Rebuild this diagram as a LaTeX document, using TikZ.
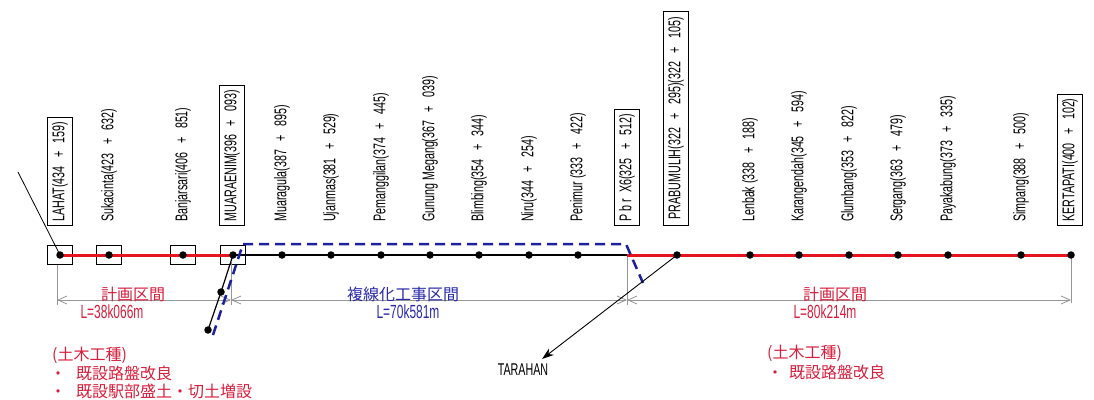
\documentclass[tikz,border=0pt]{standalone}
\usepackage{fontspec}
\setmainfont{Liberation Sans}
\newfontfamily\narrowf[FakeStretch=0.63]{Liberation Sans}
\newfontfamily\cjkf{Noto Sans CJK JP}
\usetikzlibrary{arrows.meta}
\definecolor{lred}{RGB}{230,20,30}
\definecolor{tred}{RGB}{215,30,60}
\definecolor{tblue}{RGB}{40,40,170}
\definecolor{dblue}{RGB}{30,30,160}
\definecolor{dimgray}{RGB}{150,150,150}
\newcommand\plsep{\hspace{.5em}+\hspace{.5em}}
\begin{document}
\begin{tikzpicture}[x=1pt,y=-1pt,
  stlabel/.style={rotate=90,anchor=west,inner xsep=4pt,inner ysep=4.5pt,font=\narrowf\fontsize{17}{17}\selectfont},
  boxed/.style={draw,line width=1pt},
  dot/.style={circle,fill=black,inner sep=0pt,minimum size=7.5pt},
  sqbox/.style={draw,line width=1pt,minimum width=25pt,minimum height=19pt,inner sep=0pt},
  redline/.style={lred,line width=3pt},
  blkline/.style={black,line width=1.2pt},
  bluedash/.style={dblue,line width=2.5pt,dash pattern=on 10pt off 6pt},
  extline/.style={dimgray,line width=0.8pt},
  dimarrow/.style={dimgray,line width=0.8pt,{Straight Barb[length=9pt,width=8pt]}-{Straight Barb[length=9pt,width=8pt]}},
  cjktext/.style={font=\cjkf\fontsize{16}{16}\selectfont,inner sep=0pt},
  lentext/.style={font=\narrowf\fontsize{19}{19}\selectfont,inner sep=0pt},
]
\path[use as bounding box] (0,0) rectangle (1094,399);

% station coordinates
\coordinate (lahat) at (60,255);
\coordinate (suka) at (109,255);
\coordinate (banj) at (183,255);
\coordinate (muar) at (233,255);
\coordinate (mgula) at (282,255);
\coordinate (ujan) at (331,255);
\coordinate (pema) at (381,255);
\coordinate (gunung) at (430,255);
\coordinate (blim) at (479,255);
\coordinate (niru) at (529,255);
\coordinate (peni) at (578,255);
\coordinate (pbr) at (627,255);
\coordinate (prab) at (677,255);
\coordinate (lenb) at (750,255);
\coordinate (kara) at (799,255);
\coordinate (glum) at (849,255);
\coordinate (serg) at (898,255);
\coordinate (paya) at (948,255);
\coordinate (simp) at (1021,255);
\coordinate (kert) at (1071,255);

% small square boxes
\node[sqbox] (lahatB) at (lahat) {};
\node[sqbox] (sukaB) at (suka) {};
\node[sqbox] (banjB) at (banj) {};
\node[sqbox] (muarB) at (muar) {};

% dimension extension lines
\coordinate (x1t) at (57,265); \coordinate (x1b) at (57,305);
\coordinate (x2t) at (231,262); \coordinate (x2b) at (231,305);
\coordinate (x3t) at (627,255); \coordinate (x3b) at (627,305);
\coordinate (x4t) at (1071,258); \coordinate (x4b) at (1071,303);
\draw[extline] (x1t) -- (x1b);
\draw[extline] (x2t) -- (x2b);
\draw[extline] (x3t) -- (x3b);
\draw[extline] (x4t) -- (x4b);
\coordinate (d1) at (57,300); \coordinate (d2) at (231,300);
\coordinate (d3) at (627,300); \coordinate (d4) at (1071,300);
\draw[dimarrow] (d1) -- (d2);
\draw[dimarrow] (d2) -- (d3);
\draw[dimarrow] (d3) -- (d4);

% main lines
\draw[redline] (lahat) -- (muar);
\draw[blkline] (muar) -- (pbr);
\draw[redline] (pbr) -- (kert);

% branch at Muaraenim
\coordinate (br1) at (221,292);
\coordinate (br2) at (208,330);
\draw[blkline] (muar) -- (br1) -- (br2);

% double-track section (blue dashed)
\coordinate (bl1) at (213,335);
\coordinate (bl2) at (243,244);
\coordinate (bl3) at (626,244);
\coordinate (bl4) at (643,283);
\draw[bluedash] (bl1) -- (bl2) -- (bl3) -- (bl4);

% leader at Lahat
\coordinate (lead) at (18,172);
\draw[line width=0.8pt] (lead) -- (lahat);

% Tarahan branch
\node[font=\narrowf\fontsize{17}{17}\selectfont,inner sep=0pt] (tar) at (523,370) {TARAHAN};
\coordinate (tartip) at (542,359);
\draw[line width=0.9pt,-{Stealth[length=12pt,width=8pt]}] (prab) -- (tartip);

% dots
\foreach \s in {lahat,suka,banj,muar,mgula,ujan,pema,gunung,blim,niru,peni,prab,lenb,kara,glum,serg,paya,simp,kert,br1,br2}
  \node[dot] (\s D) at (\s) {};

% station labels
\node[stlabel,boxed] (lahatL) at (60,226) {LAHAT(434\plsep159)};
\node[stlabel] (sukaL) at (109,226) {Sukacinta(423\plsep632)};
\node[stlabel] (banjL) at (183,226) {Banjarsari(406\plsep851)};
\node[stlabel,boxed] (muarL) at (232,226) {MUARAENIM(396\plsep093)};
\node[stlabel] (mgulaL) at (282,226) {Muaragula(387\plsep895)};
\node[stlabel] (ujanL) at (331,226) {Ujanmas(381\plsep529)};
\node[stlabel] (pemaL) at (381,226) {Pemanggilan(374\plsep445)};
\node[stlabel] (gunungL) at (430,226) {Gunung Megang(367\plsep039)};
\node[stlabel] (blimL) at (479,226) {Blimbing(354\plsep344)};
\node[stlabel] (niruL) at (529,226) {Niru(344\plsep254)};
\node[stlabel] (peniL) at (578,226) {Penimur (333\plsep422)};
\node[stlabel,boxed] (pbrL) at (627,226) {P b r\ \ X6(325\plsep512)};
\node[stlabel,boxed,inner xsep=6pt] (prabL) at (676,226) {PRABUMULIH(322\plsep295)(322\plsep105)};
\node[stlabel] (lenbL) at (750,226) {Lenbak (338\plsep188)};
\node[stlabel] (karaL) at (799,226) {Karangendah(345\plsep594)};
\node[stlabel] (glumL) at (849,226) {Glumbang(353\plsep822)};
\node[stlabel] (sergL) at (898,226) {Sergang(363\plsep479)};
\node[stlabel] (payaL) at (948,226) {Payakabung(373\plsep335)};
\node[stlabel] (simpL) at (1021,226) {Simpang(388\plsep500)};
\node[stlabel,boxed] (kertL) at (1070,226) {KERTAPATI(400\plsep102)};

% section labels
\node[cjktext,text=tred] (sec1) at (133,294) {計画区間};
\node[lentext,text=tred] (len1) at (112,312) {L=38k066m};
\node[cjktext,text=tblue] (sec2) at (403,294) {複線化工事区間};
\node[lentext,text=tblue] (len2) at (408,312) {L=70k581m};
\node[cjktext,text=tred] (sec3) at (835,294) {計画区間};
\node[lentext,text=tred] (len3) at (825,312) {L=80k214m};

% civil work notes
\node[cjktext,text=tred,anchor=west] (n1) at (52,355) {(土木工種)};
\node[cjktext,text=tred,anchor=west] (n2) at (50,373) {・\hspace{10pt}既設路盤改良};
\node[cjktext,text=tred,anchor=west] (n3) at (50,391) {・\hspace{10pt}既設駅部盛土・切土増設};
\node[cjktext,text=tred,anchor=west] (n4) at (767,353) {(土木工種)};
\node[cjktext,text=tred,anchor=west] (n5) at (767,372) {・\hspace{6pt}既設路盤改良};
\end{tikzpicture}
\end{document}
